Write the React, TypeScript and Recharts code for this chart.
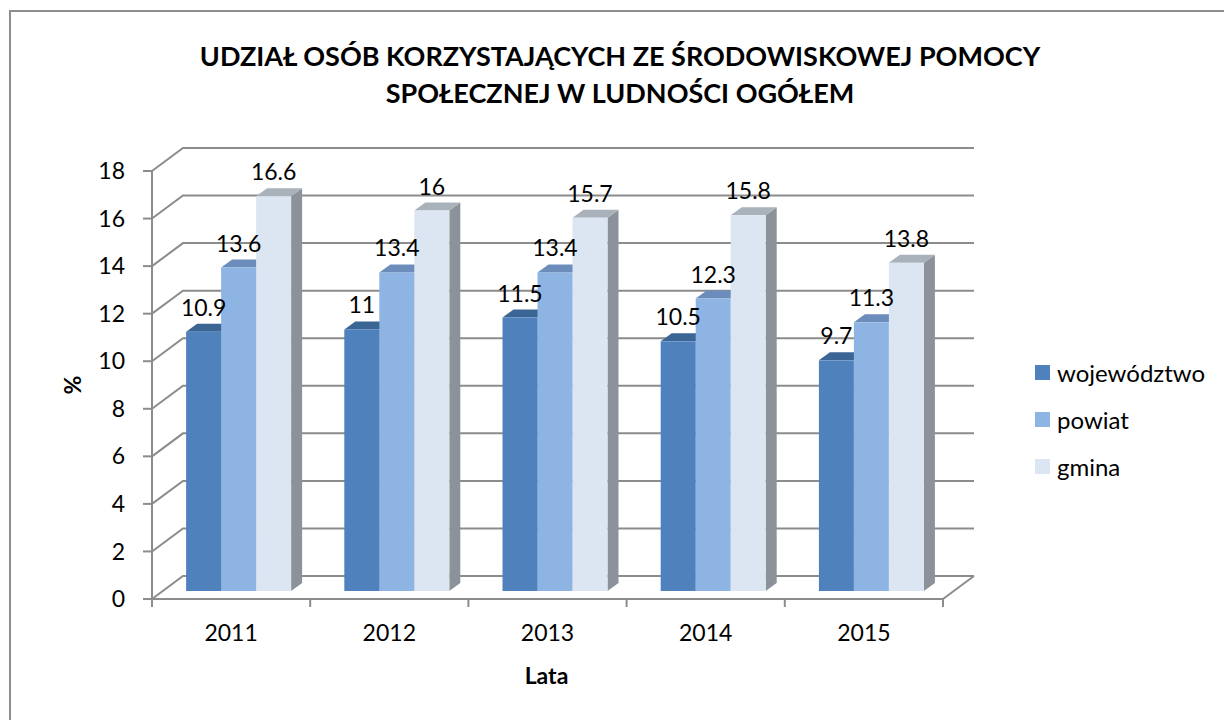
import React from "react";
import {
  BarChart,
  Bar,
  XAxis,
  YAxis,
  CartesianGrid,
  Legend,
  LabelList,
} from "recharts";

// data
const years = ["2011", "2012", "2013", "2014", "2015"];
const wojewodztwo = [10.9, 11, 11.5, 10.5, 9.7];
const powiat = [13.6, 13.4, 13.4, 12.3, 11.3];
const gmina = [16.6, 16, 15.7, 15.8, 13.8];
const yTicks = [0, 2, 4, 6, 8, 10, 12, 14, 16, 18];

const titleLines = [
  "UDZIAŁ OSÓB KORZYSTAJĄCYCH ZE ŚRODOWISKOWEJ POMOCY",
  "SPOŁECZNEJ W LUDNOŚCI OGÓŁEM",
];

const data = years.map((year, i) => ({
  year,
  wojewodztwo: wojewodztwo[i],
  powiat: powiat[i],
  gmina: gmina[i],
}));

const series = [
  { key: "wojewodztwo", name: "województwo", front: "#4F81BD", top: "#3B6594", side: "#3A5F8C" },
  { key: "powiat", name: "powiat", front: "#8EB4E3", top: "#6C8CBB", side: "#6F8DB6" },
  { key: "gmina", name: "gmina", front: "#DCE6F2", top: "#A9B1BB", side: "#8B9299" },
];

const FONT = "Lato, 'Open Sans', sans-serif";
const GRID = "#8C8C8C";
const FS = 23;

// 3D depth of the walls and the bars
const WALL_DX = 31;
const WALL_DY = 23;
const BAR_SHIFT_X = 8;
const BAR_SHIFT_Y = 8;
const BAR_DX = 11;
const BAR_DY = 8;

const PLOT_TOP = 171;
const PLOT_BOTTOM = 599;

function Bar3D(props: any) {
  const { x, y, width, height, front, top, side } = props;
  if (width == null || height == null) return null;
  const fx = x + BAR_SHIFT_X;
  const fy = y - BAR_SHIFT_Y;
  const w = width;
  const h = height;
  return (
    <g>
      <polygon
        points={`${fx + w},${fy} ${fx + w + BAR_DX},${fy - BAR_DY} ${fx + w + BAR_DX},${fy + h - BAR_DY} ${fx + w},${fy + h}`}
        fill={side}
      />
      <polygon
        points={`${fx},${fy} ${fx + BAR_DX},${fy - BAR_DY} ${fx + w + BAR_DX},${fy - BAR_DY} ${fx + w},${fy}`}
        fill={top}
      />
      <rect x={fx} y={fy} width={w} height={h} fill={front} />
    </g>
  );
}

function GridLine(props: any) {
  const { x1, y1, x2, index } = props;
  const isFloor = Math.abs(y1 - PLOT_BOTTOM) < 1;
  return (
    <g key={`grid-${index}`}>
      <polyline
        points={`${x1},${y1} ${x1 + WALL_DX},${y1 - WALL_DY} ${x2 + WALL_DX},${y1 - WALL_DY}`}
        fill="none"
        stroke={GRID}
        strokeWidth={2}
      />
      {isFloor && (
        <line x1={x2} y1={y1} x2={x2 + WALL_DX} y2={y1 - WALL_DY} stroke={GRID} strokeWidth={2} />
      )}
    </g>
  );
}

function XTick(props: any) {
  const { x, y, payload, index, visibleTicksCount } = props;
  const half = payload?.offset ?? 79.1;
  const axisY = y - 8;
  const last = index === (visibleTicksCount ?? years.length) - 1;
  return (
    <g>
      <line x1={x - half} y1={axisY} x2={x - half} y2={axisY + 8} stroke={GRID} strokeWidth={2} />
      {last && (
        <line x1={x + half} y1={axisY} x2={x + half} y2={axisY + 8} stroke={GRID} strokeWidth={2} />
      )}
      <text
        x={x}
        y={y + 25}
        textAnchor="middle"
        dominantBaseline="central"
        fill="#000"
        style={{ fontFamily: FONT, fontSize: FS }}
      >
        {payload.value}
      </text>
    </g>
  );
}

function ValueLabel(props: any) {
  const { x, y, width, value } = props;
  return (
    <text
      x={x + BAR_SHIFT_X + width / 2}
      y={y - BAR_SHIFT_Y - 25}
      textAnchor="middle"
      dominantBaseline="central"
      fill="#000"
      style={{ fontFamily: FONT, fontSize: FS }}
    >
      {value}
    </text>
  );
}

function LegendContent(props: any) {
  const payload = [...(props.payload || [])].sort(
    (a: any, b: any) =>
      series.findIndex((s) => s.name === a.value) - series.findIndex((s) => s.name === b.value)
  );
  return (
    <div style={{ fontFamily: FONT }}>
      {payload.map((entry: any, i: number) => (
        <div key={i} style={{ display: "flex", alignItems: "center", height: 47 }}>
          <span style={{ width: 15, height: 15, background: entry.color, display: "inline-block" }} />
          <span style={{ marginLeft: 7, fontSize: 24, color: "#000" }}>{entry.value}</span>
        </div>
      ))}
    </div>
  );
}

export default function App() {
  return (
    <div
      style={{
        position: "absolute",
        left: 0,
        top: 0,
        width: 1224,
        height: 720,
        overflow: "hidden",
        background: "#fff",
      }}
    >
      <div
        style={{
          position: "absolute",
          left: 9,
          top: 10,
          width: 1400,
          height: 900,
          border: "2px solid #8E8E8E",
        }}
      />
      <div
        style={{
          position: "absolute",
          left: 0,
          top: 37,
          width: 1240,
          textAlign: "center",
          fontFamily: FONT,
          fontWeight: 700,
          fontSize: 27,
          lineHeight: "37px",
          color: "#000",
        }}
      >
        {titleLines.map((t) => (
          <div key={t}>{t}</div>
        ))}
      </div>
      <div style={{ position: "absolute", left: 0, top: 0 }}>
        <BarChart
          width={1224}
          height={720}
          data={data}
          margin={{ top: PLOT_TOP, right: 281, left: 92, bottom: 61 }}
          barCategoryGap="16.5%"
          barGap={0}
        >
          <CartesianGrid vertical={false} horizontal={GridLine} />
          <XAxis
            dataKey="year"
            height={60}
            axisLine={{ stroke: GRID, strokeWidth: 2 }}
            tickLine={false}
            tickSize={8}
            tickMargin={0}
            tick={XTick}
            interval={0}
            label={{
              content: (p: any) => {
                const vb = p.viewBox;
                return (
                  <text
                    x={vb.x + vb.width / 2 - 1}
                    y={vb.y + 76}
                    textAnchor="middle"
                    dominantBaseline="central"
                    fill="#000"
                    style={{ fontFamily: FONT, fontSize: FS, fontWeight: 700 }}
                  >
                    Lata
                  </text>
                );
              },
            }}
          />
          <YAxis
            width={60}
            domain={[0, 18]}
            ticks={yTicks}
            interval={0}
            axisLine={{ stroke: GRID, strokeWidth: 2 }}
            tickLine={{ stroke: GRID, strokeWidth: 2 }}
            tickSize={9}
            tickMargin={18}
            tick={{ fill: "#000", fontSize: FS, fontFamily: FONT }}
            label={{
              content: (p: any) => {
                const vb = p.viewBox;
                const cx = vb.x - 20;
                const cy = vb.y + vb.height / 2;
                return (
                  <text
                    x={cx}
                    y={cy}
                    textAnchor="middle"
                    dominantBaseline="central"
                    transform={`rotate(-90 ${cx} ${cy})`}
                    fill="#000"
                    style={{ fontFamily: FONT, fontSize: FS, fontWeight: 700 }}
                  >
                    %
                  </text>
                );
              },
            }}
          />
          <Legend
            layout="vertical"
            align="center"
            verticalAlign="middle"
            wrapperStyle={{ left: 1035, top: 349, width: 185, height: 141 }}
            content={LegendContent}
          />
          {series.map((s) => (
            <Bar
              key={s.key}
              dataKey={s.key}
              name={s.name}
              fill={s.front}
              isAnimationActive={false}
              shape={(p: any) => <Bar3D {...p} front={s.front} top={s.top} side={s.side} />}
            >
              <LabelList dataKey={s.key} content={ValueLabel} />
            </Bar>
          ))}
        </BarChart>
      </div>
    </div>
  );
}
